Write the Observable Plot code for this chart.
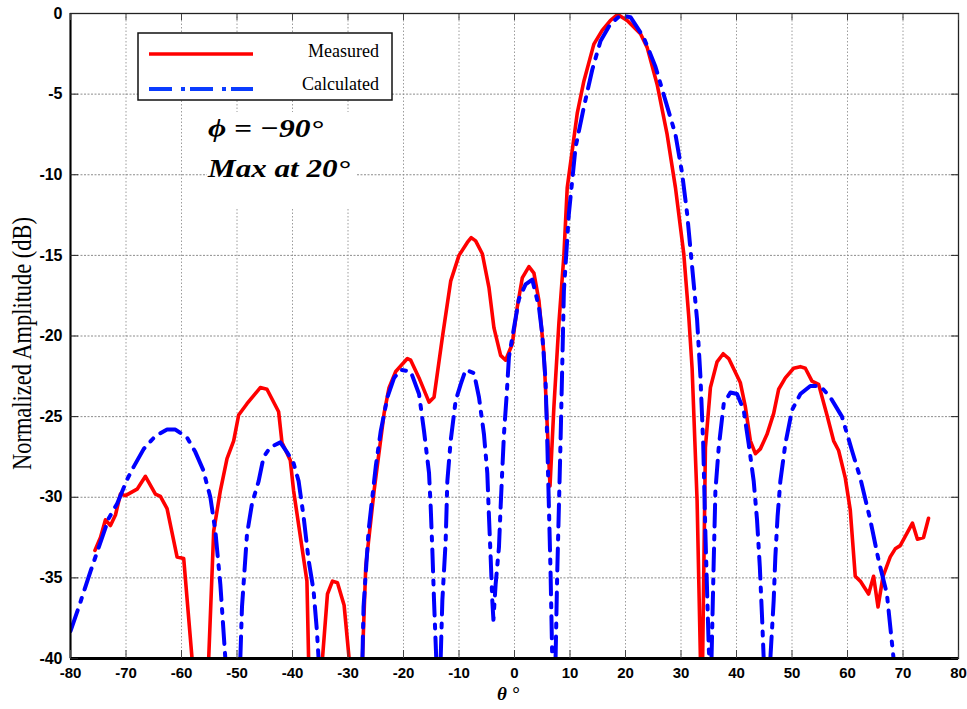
<!DOCTYPE html>
<html>
<head>
<meta charset="utf-8">
<script src="https://cdn.jsdelivr.net/npm/d3@7"></script>
<script src="https://cdn.jsdelivr.net/npm/@observablehq/plot@0.6"></script>
<style>
  html, body { margin: 0; padding: 0; background: #fff; }
  #chart svg { display: block; }
</style>
</head>
<body>
<div id="chart"></div>
<script>
// ---- Data ----
const xTicks = [-80, -70, -60, -50, -40, -30, -20, -10, 0, 10, 20, 30, 40, 50, 60, 70, 80];
const yTicks = [0, -5, -10, -15, -20, -25, -30, -35, -40];

const seriesNames = ["Measured", "Calculated"];

// Measured pattern (null = curve leaves the -40 dB floor)
const measuredTheta = [
  -75.6, -74.6, -73.7, -72.8, -71.9, -71.0, -70.1, -68.0, -66.5, -64.7, -63.8, -62.6, -60.8, -59.6, -58.1,
  null,
  -55.1, -54.2, -53.0, -51.8, -50.6, -49.7, -48.2, -47.0, -45.8, -44.6, -42.5, -41.9, -40.4, -39.8, -37.4, -37.1,
  null,
  -34.6, -33.7, -32.8, -31.9, -30.7, -29.8,
  null,
  -27.4, -26.8, -25.3, -23.5, -22.6, -21.4, -19.3, -18.7, -17.2, -15.4, -14.5, -13.0, -11.5, -10.0, -8.5, -7.8,
  -7.0, -5.8, -4.6, -3.7, -2.5, -1.6, -0.4, 0.5, 1.4, 2.6, 3.5, 4.4, 5.3, 6.4, 7.1, 8.0, 8.9, 9.5, 11.3, 12.5,
  14.3, 15.8, 17.3, 18.6, 20.3, 22.7, 23.9, 25.7, 27.5, 29.0, 30.5, 31.4, 32.0, 32.9, 33.5,
  null,
  33.9, 34.4, 35.3, 36.5, 37.6, 38.6, 40.7, 41.6, 42.5, 43.4, 44.3, 45.5, 46.7, 47.6, 48.8, 50.3, 51.5, 52.4,
  53.6, 54.8, 56.3, 57.5, 58.4, 59.6, 60.5, 61.4, 62.3, 63.8, 64.7, 65.5, 66.4, 67.7, 68.6, 69.5, 71.7, 72.6,
  73.7, 74.6
];
const measuredDb = [
  -33.3, -32.5, -31.4, -31.75, -31.1, -29.8, -29.9, -29.5, -28.7, -29.8, -29.95, -30.7, -33.7, -33.8, -40,
  null,
  -40, -32.1, -29.6, -27.6, -26.5, -24.9, -24.2, -23.7, -23.2, -23.3, -24.7, -26.6, -27.7, -29.6, -35.2, -40,
  null,
  -40, -36.0, -35.2, -35.3, -36.7, -40,
  null,
  -40, -34.3, -29.6, -24.8, -23.2, -22.2, -21.4, -21.5, -22.6, -24.1, -23.8, -20.1, -16.6, -15.0, -14.2, -13.9,
  -14.1, -14.9, -17.0, -19.5, -21.2, -21.5, -20.5, -18.2, -16.4, -15.7, -16.1, -17.8, -21.1, -29.3, -24.4, -19.2, -15.0, -10.8, -6.2, -4.2,
  -1.9, -1.05, -0.43, -0.06, -0.43, -1.26, -2.1, -4.4, -7.5, -10.8, -14.9, -18.8, -22.0, -30.2, -40,
  null,
  -40, -26.9, -23.2, -21.6, -21.1, -21.4, -22.9, -24.4, -26.5, -27.3, -27.0, -26.1, -24.8, -23.3, -22.6, -22.0, -21.9, -22.0,
  -22.8, -23.0, -24.9, -26.5, -27.1, -28.8, -30.8, -34.9, -35.2, -36.0, -34.9, -36.8, -34.9, -33.7, -33.2, -33.0, -31.6, -32.6,
  -32.5, -31.3
];

// Calculated pattern
const calculatedTheta = [
  -80.0, -78.5, -76.4, -75.2, -73.1, -71.6, -69.8, -68.6, -66.8, -64.7, -62.6, -61.1, -59.0, -57.5, -56.1, -54.8,
  -53.9, -53.0, -52.1,
  null,
  -49.4, -49.1, -48.2, -47.3, -46.1, -45.2, -44.0, -42.2, -41.0, -39.8, -38.9, -38.0, -37.1, -36.2, -35.6, -35.3,
  null,
  -27.4, -27.2, -26.3, -25.0, -24.1, -22.9, -21.7, -20.5, -18.7, -17.2, -16.3, -15.4, -15.1, -14.8, -14.5, -14.1,
  null,
  -13.3, -13.0, -12.4, -12.1, -11.5, -10.6, -9.7, -8.8, -7.3, -6.4, -5.5, -4.9, -4.6, -4.3, -4.0, -3.8, -3.4, -2.8,
  -2.5, -2.2, -1.9, -1.4, -1.0, -0.1, 0.8, 2.0, 3.2, 4.4, 5.0, 5.6, 5.9, 6.2, 6.5, 6.8,
  null,
  7.4, 7.7, 8.0, 8.3, 8.6, 8.9, 9.8, 11.0, 12.5, 14.0, 15.5, 17.3, 19.1, 20.9, 23.3, 25.4, 27.2, 29.0, 30.2, 31.1,
  32.0, 32.9, 33.5, 34.0, 34.4, 35.0, 35.1,
  null,
  35.5, 35.6, 35.9, 36.2, 36.8, 37.7, 38.9, 40.1, 41.3, 42.2, 43.1, 43.7, 44.2, 44.6, 44.9,
  null,
  46.1, 46.7, 47.0, 47.4, 47.9, 48.8, 50.0, 51.5, 53.3, 55.1, 56.9, 59.0, 60.8, 62.3, 64.1, 65.6, 67.1, 68.3
];
const calculatedDb = [
  -38.3, -36.8, -34.6, -33.4, -31.3, -30.4, -28.9, -28.1, -27.0, -26.2, -25.8, -25.8, -26.3, -27.2, -28.3, -30.0,
  -32.1, -35.4, -40,
  null,
  -40, -36.8, -32.3, -30.4, -29.0, -27.5, -26.9, -26.6, -27.2, -27.9, -29.0, -31.2, -33.9, -35.8, -38.3, -40,
  null,
  -40, -36.8, -32.1, -28.1, -25.9, -23.8, -22.6, -22.1, -22.2, -23.6, -25.9, -28.5, -30.6, -33.3, -36.4, -40,
  null,
  -40, -36.4, -32.7, -29.0, -26.5, -24.0, -23.0, -22.1, -22.3, -23.8, -26.1, -28.5, -31.2, -33.7, -36.4, -37.6, -35.4, -33.1,
  -30.6, -28.3, -26.1, -23.6, -21.3, -19.5, -17.7, -16.8, -16.5, -18.2, -19.9, -22.8, -26.5, -30.6, -34.7, -40,
  null,
  -40, -34.7, -30.6, -26.5, -21.9, -17.2, -12.4, -8.3, -5.8, -3.5, -1.7, -0.64, -0.12, -0.23, -1.5, -3.3, -5.4, -7.5, -9.9, -12.4,
  -15.7, -19.0, -22.5, -26.7, -32.3, -39.3, -40,
  null,
  -40, -38.5, -33.9, -29.6, -26.9, -24.2, -23.5, -23.6, -24.6, -26.7, -29.0, -31.4, -34.3, -37.4, -40,
  null,
  -40, -36.4, -33.7, -31.2, -29.0, -26.7, -24.6, -23.6, -23.1, -23.1, -23.8, -25.0, -27.1, -28.8, -31.4, -33.9, -36.0, -40
];

const annotationLines = ["\u03D5 = \u221290\u00B0", "Max at 20\u00B0"];
const xLabel = "\u03B8 \u00B0";
const yLabel = "Normalized Amplitude (dB)";

// ---- Build tables for Plot ----
const measured = measuredTheta.map((t, i) => ({theta: t, db: measuredDb[i]}));
const calculated = calculatedTheta.map((t, i) => ({theta: t, db: calculatedDb[i]}));

const RED = "#ff0000";
const BLUE = "#0000ff";
const DASHDOT = "22,9,4,9";
const hyphenFormat = d => String(d);

const chart = Plot.plot({
  width: 967,
  height: 709,
  marginLeft: 70,
  marginRight: 9,
  marginTop: 13,
  marginBottom: 51,
  style: {background: "#fff", color: "#000", fontFamily: "'Liberation Sans', Arial, sans-serif", overflow: "visible"},
  x: {domain: [-80, 80], label: null},
  y: {domain: [-40, 0], label: null},
  marks: [
    Plot.gridX(xTicks, {stroke: "#9c9c9c", strokeOpacity: 1, strokeWidth: 1, strokeDasharray: "1.5,2"}),
    Plot.gridY(yTicks, {stroke: "#8c8c8c", strokeOpacity: 1, strokeWidth: 1, strokeDasharray: "2,1.5"}),
    Plot.line(measured, {x: "theta", y: "db", stroke: RED, strokeWidth: 3.6, clip: true, strokeLinejoin: "round"}),
    Plot.line(calculated, {x: "theta", y: "db", stroke: BLUE, strokeWidth: 4, strokeDasharray: DASHDOT, clip: true}),
    Plot.frame({stroke: "#222", strokeWidth: 1.3}),
    Plot.ruleX([-80], {stroke: "#000", strokeWidth: 2}),
    Plot.ruleY([-40], {stroke: "#000", strokeWidth: 3}),
    Plot.axisX(xTicks, {anchor: "bottom", tickSize: -8, tickPadding: 17, fontSize: 15, fontWeight: "bold", tickFormat: hyphenFormat, label: null, stroke: "#444"}),
    Plot.axisX(xTicks, {anchor: "top", tickSize: -6, tickFormat: () => "", label: null, stroke: "#444"}),
    Plot.axisY(yTicks, {anchor: "left", tickSize: -8, tickPadding: 16, fontSize: 16, fontWeight: "bold", tickFormat: hyphenFormat, label: null, stroke: "#222"}),
    Plot.axisY(yTicks, {anchor: "right", tickSize: -8, tickFormat: () => "", label: null, stroke: "#222"})
  ]
});

document.getElementById("chart").appendChild(chart);

// ---- Overlays: axis titles, annotation box and legend ----
const svg = d3.select(chart);
const serif = "'Liberation Serif', 'Times New Roman', serif";

svg.append("text")
  .attr("transform", "translate(31,343.5) rotate(-90)")
  .attr("text-anchor", "middle")
  .attr("font-family", serif)
  .attr("font-size", 27)
  .attr("textLength", 253)
  .attr("lengthAdjust", "spacingAndGlyphs")
  .attr("fill", "#000")
  .text(yLabel);

svg.append("text")
  .attr("x", 497).attr("y", 700)
  .attr("text-anchor", "start")
  .attr("font-family", serif)
  .attr("font-size", 19)
  .attr("font-style", "italic")
  .attr("font-weight", "bold")
  .attr("fill", "#000")
  .text(xLabel);

// annotation (inserted image in the original)
svg.append("rect")
  .attr("x", 207).attr("y", 112).attr("width", 150).attr("height", 95)
  .attr("fill", "#fff");
const ann = [[208, 137, 115], [208, 177, 142]];
annotationLines.forEach((s, i) => {
  svg.append("text")
    .attr("x", ann[i][0]).attr("y", ann[i][1])
    .attr("text-anchor", "start")
    .attr("font-family", serif)
    .attr("font-size", 26)
    .attr("font-style", "italic")
    .attr("font-weight", "bold")
    .attr("textLength", ann[i][2])
    .attr("lengthAdjust", "spacingAndGlyphs")
    .attr("fill", "#000")
    .text(s);
});

// legend
const lg = svg.append("g");
lg.append("rect")
  .attr("x", 138).attr("y", 33).attr("width", 254).attr("height", 67)
  .attr("fill", "#fff").attr("stroke", "#111").attr("stroke-width", 1.5);
const legendStyles = [
  {stroke: RED, dash: null, y: 54, ty: 57},
  {stroke: "#0a3cff", dash: "23,9,4,5", y: 89, ty: 90}
];
seriesNames.forEach((name, i) => {
  const s = legendStyles[i];
  lg.append("line")
    .attr("x1", 149).attr("x2", 253).attr("y1", s.y).attr("y2", s.y)
    .attr("stroke", s.stroke).attr("stroke-width", i === 0 ? 3.6 : 4)
    .attr("stroke-dasharray", s.dash);
  lg.append("text")
    .attr("x", 379).attr("y", s.ty)
    .attr("text-anchor", "end")
    .attr("font-family", serif)
    .attr("font-size", 18)
    .attr("fill", "#000")
    .text(name);
});
</script>
</body>
</html>
